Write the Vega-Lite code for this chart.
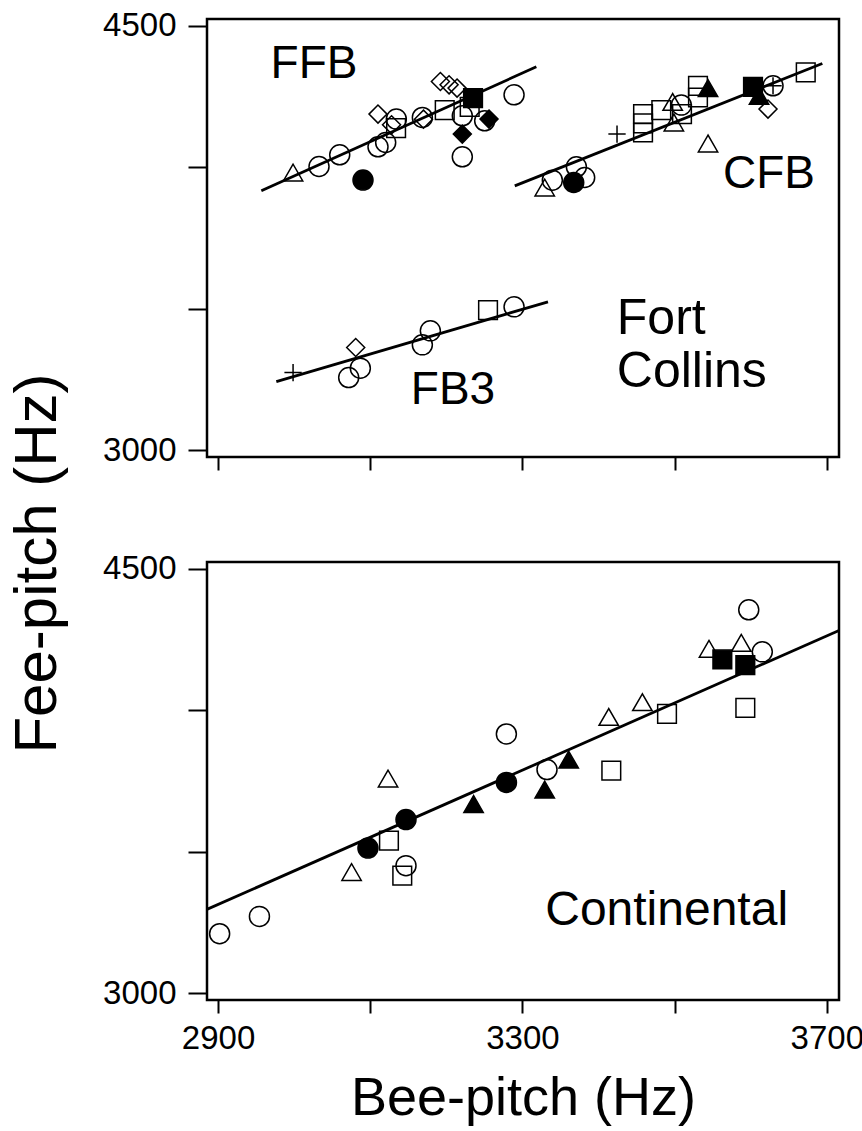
{
  "$schema": "https://vega.github.io/schema/vega-lite/v6.json",
  "padding": {"left": 5, "top": 8, "right": 0, "bottom": 5},
  "bounds": "flush",
  "spacing": 105,
  "config": {
    "view": {"stroke": "black", "strokeWidth": 2.5},
    "axis": {"domain": false, "grid": false, "tickColor": "black", "tickWidth": 2, "labelFont": "Liberation Sans", "labelFontSize": 33, "labelColor": "black", "titleFont": "Liberation Sans", "titleColor": "black", "titleFontWeight": "normal", "labelFlush": false, "labelOverlap": false, "format": "d"},
    "font": "Liberation Sans"
  },
  "datasets": {
    "points": [
      {"panel": "top", "bee": 2998.6, "fee": 3981.4, "symbol": "triangle", "solid": "no"},
      {"panel": "top", "bee": 3032.7, "fee": 4002.7, "symbol": "circle", "solid": "no"},
      {"panel": "top", "bee": 3059.9, "fee": 4044.0, "symbol": "circle", "solid": "no"},
      {"panel": "top", "bee": 3090.5, "fee": 3954.6, "symbol": "circle", "solid": "yes"},
      {"panel": "top", "bee": 3110.2, "fee": 4072.3, "symbol": "circle", "solid": "no"},
      {"panel": "top", "bee": 3120.3, "fee": 4087.5, "symbol": "circle", "solid": "no"},
      {"panel": "top", "bee": 3110.2, "fee": 4187.9, "symbol": "diamond", "solid": "no"},
      {"panel": "top", "bee": 3134.3, "fee": 4170.2, "symbol": "circle", "solid": "no"},
      {"panel": "top", "bee": 3128.0, "fee": 4150.0, "symbol": "diamond", "solid": "no"},
      {"panel": "top", "bee": 3134.0, "fee": 4138.0, "symbol": "square", "solid": "no"},
      {"panel": "top", "bee": 3168.5, "fee": 4176.0, "symbol": "circle", "solid": "no"},
      {"panel": "top", "bee": 3170.0, "fee": 4170.0, "symbol": "diamond", "solid": "no"},
      {"panel": "top", "bee": 3197.9, "fee": 4202.0, "symbol": "square", "solid": "no"},
      {"panel": "top", "bee": 3192.2, "fee": 4303.1, "symbol": "diamond", "solid": "no"},
      {"panel": "top", "bee": 3203.6, "fee": 4291.4, "symbol": "diamond", "solid": "no"},
      {"panel": "top", "bee": 3214.1, "fee": 4279.8, "symbol": "diamond", "solid": "no"},
      {"panel": "top", "bee": 3235.1, "fee": 4244.4, "symbol": "square", "solid": "yes"},
      {"panel": "top", "bee": 3230.7, "fee": 4213.7, "symbol": "square", "solid": "no"},
      {"panel": "top", "bee": 3221.0, "fee": 4181.9, "symbol": "circle", "solid": "no"},
      {"panel": "top", "bee": 3221.0, "fee": 4117.2, "symbol": "diamond", "solid": "yes"},
      {"panel": "top", "bee": 3221.0, "fee": 4036.9, "symbol": "circle", "solid": "no"},
      {"panel": "top", "bee": 3250.4, "fee": 4164.2, "symbol": "circle", "solid": "no"},
      {"panel": "top", "bee": 3256.1, "fee": 4170.2, "symbol": "diamond", "solid": "yes"},
      {"panel": "top", "bee": 3289.0, "fee": 4256.1, "symbol": "circle", "solid": "no"},
      {"panel": "top", "bee": 3329.3, "fee": 3928.4, "symbol": "triangle", "solid": "no"},
      {"panel": "top", "bee": 3339.3, "fee": 3954.5, "symbol": "circle", "solid": "no"},
      {"panel": "top", "bee": 3370.9, "fee": 4001.6, "symbol": "circle", "solid": "no"},
      {"panel": "top", "bee": 3367.4, "fee": 3946.1, "symbol": "circle", "solid": "yes"},
      {"panel": "top", "bee": 3381.8, "fee": 3963.8, "symbol": "circle", "solid": "no"},
      {"panel": "top", "bee": 3424.3, "fee": 4117.2, "symbol": "plus", "solid": "no"},
      {"panel": "top", "bee": 3458.5, "fee": 4187.9, "symbol": "square", "solid": "no"},
      {"panel": "top", "bee": 3458.5, "fee": 4155.0, "symbol": "square", "solid": "no"},
      {"panel": "top", "bee": 3458.5, "fee": 4122.8, "symbol": "square", "solid": "no"},
      {"panel": "top", "bee": 3482.5, "fee": 4202.0, "symbol": "square", "solid": "no"},
      {"panel": "top", "bee": 3497.4, "fee": 4231.0, "symbol": "triangle", "solid": "no"},
      {"panel": "top", "bee": 3508.8, "fee": 4219.7, "symbol": "circle", "solid": "no"},
      {"panel": "top", "bee": 3509.7, "fee": 4187.9, "symbol": "square", "solid": "no"},
      {"panel": "top", "bee": 3499.0, "fee": 4158.2, "symbol": "triangle", "solid": "no"},
      {"panel": "top", "bee": 3530.7, "fee": 4287.9, "symbol": "square", "solid": "no"},
      {"panel": "top", "bee": 3530.7, "fee": 4246.6, "symbol": "square", "solid": "no"},
      {"panel": "top", "bee": 3543.9, "fee": 4279.8, "symbol": "triangle", "solid": "yes"},
      {"panel": "top", "bee": 3543.9, "fee": 4084.0, "symbol": "triangle", "solid": "no"},
      {"panel": "top", "bee": 3603.0, "fee": 4284.4, "symbol": "square", "solid": "yes"},
      {"panel": "top", "bee": 3610.9, "fee": 4252.6, "symbol": "triangle", "solid": "yes"},
      {"panel": "top", "bee": 3629.3, "fee": 4287.9, "symbol": "circle", "solid": "no"},
      {"panel": "top", "bee": 3629.3, "fee": 4287.9, "symbol": "plus", "solid": "no"},
      {"panel": "top", "bee": 3622.7, "fee": 4205.6, "symbol": "diamond", "solid": "no"},
      {"panel": "top", "bee": 3672.3, "fee": 4335.0, "symbol": "square", "solid": "no"},
      {"panel": "top", "bee": 2998.6, "fee": 3274.5, "symbol": "plus", "solid": "no"},
      {"panel": "top", "bee": 3071.7, "fee": 3256.8, "symbol": "circle", "solid": "no"},
      {"panel": "top", "bee": 3087.0, "fee": 3290.0, "symbol": "circle", "solid": "no"},
      {"panel": "top", "bee": 3080.9, "fee": 3362.9, "symbol": "diamond", "solid": "no"},
      {"panel": "top", "bee": 3168.5, "fee": 3372.4, "symbol": "circle", "solid": "no"},
      {"panel": "top", "bee": 3179.0, "fee": 3421.9, "symbol": "circle", "solid": "no"},
      {"panel": "top", "bee": 3254.8, "fee": 3495.0, "symbol": "square", "solid": "no"},
      {"panel": "top", "bee": 3289.0, "fee": 3506.7, "symbol": "circle", "solid": "no"},
      {"panel": "bottom", "bee": 2902.1, "fee": 3210.3, "symbol": "circle", "solid": "no"},
      {"panel": "bottom", "bee": 2954.4, "fee": 3271.5, "symbol": "circle", "solid": "no"},
      {"panel": "bottom", "bee": 3075.5, "fee": 3428.2, "symbol": "triangle", "solid": "no"},
      {"panel": "bottom", "bee": 3097.0, "fee": 3513.1, "symbol": "circle", "solid": "yes"},
      {"panel": "bottom", "bee": 3124.6, "fee": 3539.3, "symbol": "square", "solid": "no"},
      {"panel": "bottom", "bee": 3123.4, "fee": 3758.6, "symbol": "triangle", "solid": "no"},
      {"panel": "bottom", "bee": 3147.0, "fee": 3613.5, "symbol": "circle", "solid": "yes"},
      {"panel": "bottom", "bee": 3147.0, "fee": 3450.8, "symbol": "circle", "solid": "no"},
      {"panel": "bottom", "bee": 3142.1, "fee": 3415.4, "symbol": "square", "solid": "no"},
      {"panel": "bottom", "bee": 3235.8, "fee": 3668.7, "symbol": "triangle", "solid": "yes"},
      {"panel": "bottom", "bee": 3278.9, "fee": 3916.3, "symbol": "circle", "solid": "no"},
      {"panel": "bottom", "bee": 3279.0, "fee": 3745.0, "symbol": "circle", "solid": "yes"},
      {"panel": "bottom", "bee": 3329.3, "fee": 3719.7, "symbol": "triangle", "solid": "yes"},
      {"panel": "bottom", "bee": 3332.3, "fee": 3790.4, "symbol": "circle", "solid": "no"},
      {"panel": "bottom", "bee": 3360.8, "fee": 3825.8, "symbol": "triangle", "solid": "yes"},
      {"panel": "bottom", "bee": 3416.8, "fee": 3786.9, "symbol": "square", "solid": "no"},
      {"panel": "bottom", "bee": 3413.4, "fee": 3976.5, "symbol": "triangle", "solid": "no"},
      {"panel": "bottom", "bee": 3457.6, "fee": 4028.5, "symbol": "triangle", "solid": "no"},
      {"panel": "bottom", "bee": 3490.0, "fee": 3987.1, "symbol": "square", "solid": "no"},
      {"panel": "bottom", "bee": 3545.2, "fee": 4217.0, "symbol": "triangle", "solid": "no"},
      {"panel": "bottom", "bee": 3562.7, "fee": 4179.5, "symbol": "square", "solid": "yes"},
      {"panel": "bottom", "bee": 3587.6, "fee": 4238.2, "symbol": "triangle", "solid": "no"},
      {"panel": "bottom", "bee": 3592.9, "fee": 4159.4, "symbol": "square", "solid": "yes"},
      {"panel": "bottom", "bee": 3592.9, "fee": 4008.3, "symbol": "square", "solid": "no"},
      {"panel": "bottom", "bee": 3597.4, "fee": 4355.0, "symbol": "circle", "solid": "no"},
      {"panel": "bottom", "bee": 3615.2, "fee": 4206.4, "symbol": "circle", "solid": "no"}
    ],
    "lines": [
      {"panel": "top", "fit": "FFB", "bee": 2956.9, "fee": 3916.8},
      {"panel": "top", "fit": "FFB", "bee": 3318.3, "fee": 4355.1},
      {"panel": "top", "fit": "CFB", "bee": 3289.9, "fee": 3934.4},
      {"panel": "top", "fit": "CFB", "bee": 3694.1, "fee": 4366.7},
      {"panel": "top", "fit": "FB3", "bee": 2976.6, "fee": 3242.7},
      {"panel": "top", "fit": "FB3", "bee": 3333.6, "fee": 3524.4},
      {"panel": "bottom", "fit": "Continental", "bee": 2886.0, "fee": 3297.0},
      {"panel": "bottom", "fit": "Continental", "bee": 3716.0, "fee": 4282.0}
    ],
    "labels": [
      {"panel": "top", "text": "FFB", "bee": 3026.1, "fee": 4365.7},
      {"panel": "top", "text": "CFB", "bee": 3624.0, "fee": 3976.9},
      {"panel": "top", "text": "FB3", "bee": 3208.8, "fee": 3213.3},
      {"panel": "bottom", "text": "Continental", "bee": 3489.5, "fee": 3289.2}
    ],
    "multiline": [
      {"panel": "top", "text": "Fort\nCollins", "bee": 3424.0, "fee": 3462.0}
    ]
  },
  "vconcat": [
    {
      "width": 632,
      "height": 438,
      "layer": [
        {
          "data": {"name": "lines"},
          "transform": [{"filter": "datum.panel === 'top'"}],
          "mark": {"type": "line", "color": "black", "strokeWidth": 2.8, "clip": true},
          "encoding": {
            "x": {"field": "bee", "type": "quantitative", "scale": {"domain": [2885.5, 3716], "nice": false, "zero": false},
                  "axis": {"values": [2900, 3100, 3300, 3500, 3700], "labels": false, "tickSize": 13, "title": null}},
            "y": {"field": "fee", "type": "quantitative", "scale": {"domain": [2976, 4524], "nice": false, "zero": false},
                  "axis": {"values": [3000, 3500, 4000, 4500], "tickSize": 19, "labelPadding": 12,
                           "labelExpr": "datum.value == 3000 || datum.value == 4500 ? datum.label : ''",
                           "title": "Fee-pitch (Hz)", "titleFontSize": 60, "titleX": -139, "titleY": 544, "titleAlign": "center", "titleBaseline": "bottom"}},
            "detail": {"field": "fit", "type": "nominal"}
          }
        },
        {
          "data": {"name": "points"},
          "transform": [{"filter": "datum.panel === 'top'"}],
          "mark": {"type": "point", "filled": true, "stroke": "black", "strokeWidth": 1.5, "opacity": 1},
          "encoding": {
            "x": {"field": "bee", "type": "quantitative"},
            "y": {"field": "fee", "type": "quantitative"},
            "shape": {"field": "symbol", "type": "nominal", "legend": null,
                      "scale": {"domain": ["circle", "triangle", "square", "diamond", "plus"], "range": ["circle", "triangle-up", "square", "diamond", "M-1,0L1,0M0,-1L0,1"]}},
            "size": {"field": "symbol", "type": "nominal", "legend": null,
                     "scale": {"domain": ["circle", "triangle", "square", "diamond", "plus"], "range": [400, 300, 170, 330, 420]}},
            "fill": {"field": "solid", "type": "nominal", "legend": null,
                     "scale": {"domain": ["no", "yes"], "range": ["transparent", "black"]}}
          }
        },
        {
          "data": {"name": "labels"},
          "transform": [{"filter": "datum.panel === 'top'"}],
          "mark": {"type": "text", "fontSize": 46, "font": "Liberation Sans", "color": "black", "align": "center", "baseline": "middle"},
          "encoding": {
            "x": {"field": "bee", "type": "quantitative"},
            "y": {"field": "fee", "type": "quantitative"},
            "text": {"field": "text"}
          }
        },
        {
          "data": {"name": "multiline"},
          "mark": {"type": "text", "fontSize": 50, "font": "Liberation Sans", "color": "black", "align": "left", "baseline": "middle", "lineBreak": "\n", "lineHeight": 53},
          "encoding": {
            "x": {"field": "bee", "type": "quantitative"},
            "y": {"field": "fee", "type": "quantitative"},
            "text": {"field": "text"}
          }
        }
      ]
    },
    {
      "width": 632,
      "height": 438,
      "layer": [
        {
          "data": {"name": "lines"},
          "transform": [{"filter": "datum.panel === 'bottom'"}],
          "mark": {"type": "line", "color": "black", "strokeWidth": 2.8, "clip": true},
          "encoding": {
            "x": {"field": "bee", "type": "quantitative", "scale": {"domain": [2885.5, 3716], "nice": false, "zero": false},
                  "axis": {"values": [2900, 3100, 3300, 3500, 3700], "tickSize": 13, "labelPadding": 9,
                           "labelExpr": "datum.value == 2900 || datum.value == 3300 || datum.value == 3700 ? datum.label : ''",
                           "title": "Bee-pitch (Hz)", "titleFontSize": 54, "titlePadding": 16}},
            "y": {"field": "fee", "type": "quantitative", "scale": {"domain": [2976, 4524], "nice": false, "zero": false},
                  "axis": {"values": [3000, 3500, 4000, 4500], "tickSize": 19, "labelPadding": 12,
                           "labelExpr": "datum.value == 3000 || datum.value == 4500 ? datum.label : ''", "title": null}},
            "detail": {"field": "fit", "type": "nominal"}
          }
        },
        {
          "data": {"name": "points"},
          "transform": [{"filter": "datum.panel === 'bottom'"}],
          "mark": {"type": "point", "filled": true, "stroke": "black", "strokeWidth": 1.5, "opacity": 1},
          "encoding": {
            "x": {"field": "bee", "type": "quantitative"},
            "y": {"field": "fee", "type": "quantitative"},
            "shape": {"field": "symbol", "type": "nominal", "legend": null,
                      "scale": {"domain": ["circle", "triangle", "square", "diamond", "plus"], "range": ["circle", "triangle-up", "square", "diamond", "M-1,0L1,0M0,-1L0,1"]}},
            "size": {"field": "symbol", "type": "nominal", "legend": null,
                     "scale": {"domain": ["circle", "triangle", "square", "diamond", "plus"], "range": [400, 300, 170, 330, 420]}},
            "fill": {"field": "solid", "type": "nominal", "legend": null,
                     "scale": {"domain": ["no", "yes"], "range": ["transparent", "black"]}}
          }
        },
        {
          "data": {"name": "labels"},
          "transform": [{"filter": "datum.panel === 'bottom'"}],
          "mark": {"type": "text", "fontSize": 48, "font": "Liberation Sans", "color": "black", "align": "center", "baseline": "middle"},
          "encoding": {
            "x": {"field": "bee", "type": "quantitative"},
            "y": {"field": "fee", "type": "quantitative"},
            "text": {"field": "text"}
          }
        }
      ]
    }
  ]
}
